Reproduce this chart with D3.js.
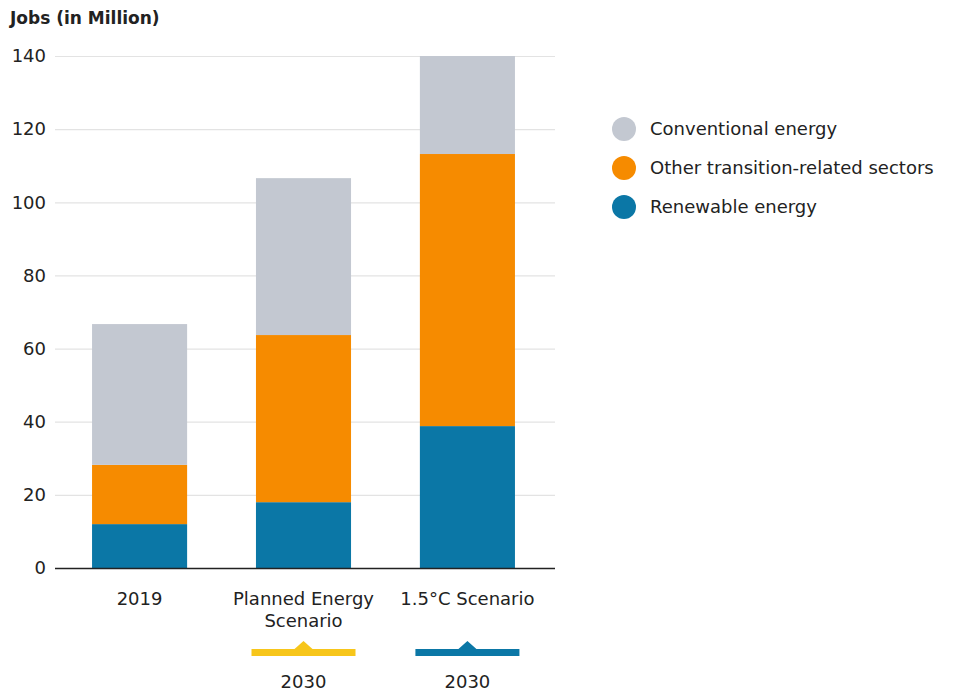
<!DOCTYPE html>
<html>
<head>
<meta charset="utf-8">
<script src="https://cdn.jsdelivr.net/npm/d3@7"></script>
<style>
  body { margin: 0; background: #fff; }
  text { font-family: "DejaVu Sans", sans-serif; fill: #222; }
</style>
</head>
<body>
<div id="chart"></div>
<script>
// chart values (million jobs)
const categories = ["2019", "Planned Energy Scenario", "1.5°C Scenario"];
const categoryLines = [["2019"], ["Planned Energy", "Scenario"], ["1.5°C Scenario"]];
const renewable = [12, 18, 38.8];
const otherTransition = [16.2, 45.7, 74.4];
const conventional = [38.5, 42.9, 26.8];
const yTicks = [0, 20, 40, 60, 80, 100, 120, 140];
const seriesNames = ["Conventional energy", "Other transition-related sectors", "Renewable energy"];
const seriesKeys = ["renewable", "other", "conventional"];
const yearMarks = [null, "2030", "2030"];

const colors = {renewable: "#0b77a6", other: "#f68b00", conventional: "#c3c8d1"};
const markColors = [null, "#f7c61b", "#0b77a6"];

let rows = categories.map((c, i) => ({
  cat: c, renewable: renewable[i], other: otherTransition[i], conventional: conventional[i]
}));

let W = 965, H = 692;
let margin = {top: 56, left: 55, right: 410, bottom: 124};

let svg = d3.select("#chart").append("svg")
  .attr("width", W).attr("height", H);

let x = d3.scaleBand()
  .domain(categories)
  .range([margin.left, 552])
  .paddingInner(0.42)
  .paddingOuter(0.226);

let y = d3.scaleLinear()
  .domain([0, 140])
  .range([H - margin.bottom, margin.top]);

// grid
let yAxis = svg.append("g")
  .attr("transform", "translate(" + margin.left + ",0)")
  .call(d3.axisLeft(y).tickValues(yTicks).tickSize(-(W - margin.right - margin.left)).tickPadding(9));
yAxis.select(".domain").remove();
yAxis.selectAll(".tick line").attr("stroke", "#e3e3e3").attr("stroke-width", 1.2);
yAxis.selectAll(".tick text")
  .attr("font-size", 18)
  .attr("fill", "#222");

// title
svg.append("text")
  .attr("x", 10).attr("y", 24)
  .attr("font-size", 17).attr("font-weight", "bold")
  .text("Jobs (in Million)");

// stacked bars
let stack = d3.stack().keys(seriesKeys)(rows);
svg.append("g").selectAll("g")
  .data(stack)
  .join("g")
  .attr("fill", d => colors[d.key])
  .selectAll("rect")
  .data(d => d)
  .join("rect")
  .attr("x", d => x(d.data.cat))
  .attr("y", d => y(d[1]))
  .attr("width", x.bandwidth())
  .attr("height", d => y(d[0]) - y(d[1]));

// baseline
svg.append("line")
  .attr("x1", margin.left).attr("x2", W - margin.right)
  .attr("y1", y(0) + 0.5).attr("y2", y(0) + 0.5)
  .attr("stroke", "#222").attr("stroke-width", 1.5);

// category labels
let catG = svg.append("g");
categories.forEach((c, i) => {
  let cx = x(c) + x.bandwidth() / 2;
  let t = catG.append("text")
    .attr("x", cx).attr("y", y(0) + 37)
    .attr("text-anchor", "middle")
    .attr("font-size", 18);
  categoryLines[i].forEach((ln, j) => {
    t.append("tspan").attr("x", cx).attr("dy", j === 0 ? 0 : 22).text(ln);
  });
  if (yearMarks[i]) {
    let w = 104, by = 652;
    svg.append("path")
      .attr("d", `M${cx - w / 2},${by - 3} L${cx - 9},${by - 3} L${cx},${by - 11} L${cx + 9},${by - 3} L${cx + w / 2},${by - 3} L${cx + w / 2},${by + 4} L${cx - w / 2},${by + 4} Z`)
      .attr("fill", markColors[i]);
    svg.append("text")
      .attr("x", cx).attr("y", 688)
      .attr("text-anchor", "middle")
      .attr("font-size", 18)
      .text(yearMarks[i]);
  }
});

// legend
let legend = svg.append("g");
const legendColors = [colors.conventional, colors.other, colors.renewable];
seriesNames.forEach((s, i) => {
  let ly = 129 + i * 39;
  legend.append("circle").attr("cx", 624).attr("cy", ly).attr("r", 12).attr("fill", legendColors[i]);
  legend.append("text")
    .attr("x", 650).attr("y", ly + 6)
    .attr("font-size", 18)
    .text(s);
});
</script>
</body>
</html>
